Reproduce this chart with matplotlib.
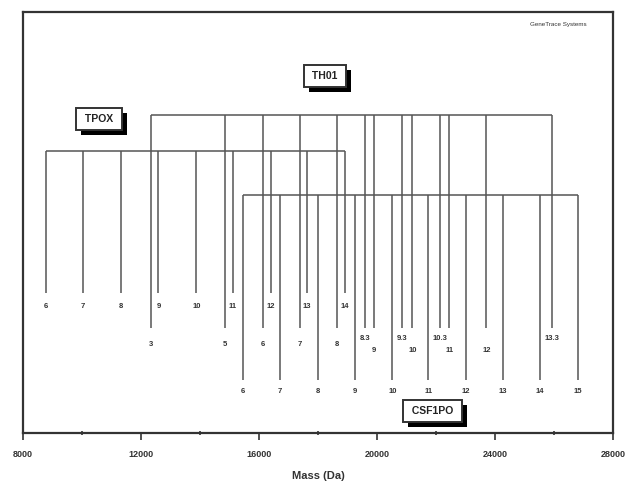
import matplotlib.pyplot as plt
import matplotlib.patheffects as pe
from matplotlib.ticker import MultipleLocator

plt.rcParams['font.family'] = ['Liberation Sans', 'DejaVu Sans']

# allele masses (Da)
tpox_alleles = ['6', '7', '8', '9', '10', '11', '12', '13', '14']
tpox_mass = [8780, 10040, 11330, 12590, 13880, 15110, 16400, 17620, 18920]

th01_alleles = ['3', '5', '6', '7', '8', '8.3', '9', '9.3', '10', '10.3', '11', '12', '13.3']
th01_mass = [12350, 14840, 16130, 17390, 18650, 19600, 19900, 20860, 21200,
             22150, 22450, 23710, 25920]

csf_alleles = ['6', '7', '8', '9', '10', '11', '12', '13', '14', '15']
csf_mass = [15450, 16710, 18000, 19260, 20520, 21740, 23000, 24260, 25520, 26810]

fig = plt.figure(figsize=(6.27, 4.86), dpi=100)
ax = fig.add_axes([23/627, 53/486, 590/627, 421/486])
ax.set_xlim(8000, 28000)
ax.set_ylim(433, 12)   # rows measured from the top

lc = '#555555'
lw = 1.1


def locus(masses, labels, top, bottom, lab_y, lab_y_hi=None, lab_y_lo=None):
    ax.plot([masses[0], masses[-1]], [top, top], color=lc, lw=lw, solid_capstyle='butt')
    for i, (m, s) in enumerate(zip(masses, labels)):
        ax.plot([m, m], [top, bottom], color=lc, lw=lw, solid_capstyle='butt')
        y = lab_y
        if lab_y_hi is not None:
            if '.' in s:
                y = lab_y_hi
            elif i > 0 and '.' in labels[i - 1]:
                y = lab_y_lo
            elif s == '12':
                y = lab_y_lo
        ax.text(m, y, s, ha='center', va='center', fontsize=5.5, color='#333333',
                fontweight='bold')


locus(tpox_mass, tpox_alleles, 151, 293, 307)
locus(th01_mass, th01_alleles, 115, 328, 344, 338, 351)
locus(csf_mass, csf_alleles, 195, 380, 391)


def tag(x, y, s):
    t = ax.text(x, y, s, transform=ax.transAxes, ha='center', va='center',
                fontsize=7.5, fontweight='bold', color='#222222',
                bbox=dict(boxstyle='square,pad=0.55', fc='white', ec='#333333', lw=1.4))
    t.get_bbox_patch().set_path_effects([
        pe.SimplePatchShadow(offset=(3.5, -3.5), shadow_rgbFace='black', alpha=1.0),
        pe.Normal()])


tag(0.129, 0.746, ' TPOX ')
tag(0.512, 0.848, ' TH01 ')
tag(0.694, 0.052, ' CSF1PO ')

ax.text(0.955, 0.97, 'GeneTrace Systems', transform=ax.transAxes, ha='right',
        va='center', fontsize=4.5, color='#333333')

for sp in ax.spines.values():
    sp.set_linewidth(1.6)
    sp.set_color('#333333')

ax.set_yticks([])
ax.xaxis.set_major_locator(MultipleLocator(4000))
ax.xaxis.set_minor_locator(MultipleLocator(2000))
ax.tick_params(axis='x', which='major', direction='out', length=5, width=1.2,
               labelsize=6.5, colors='#333333', pad=7)
ax.tick_params(axis='x', which='minor', direction='inout', length=3, width=1.2,
               colors='#333333')
for lab in ax.get_xticklabels():
    lab.set_fontweight('bold')
ax.set_xlabel('Mass (Da)', fontsize=8, fontweight='bold', color='#333333', labelpad=9)

fig.savefig('out.png', dpi=100)
